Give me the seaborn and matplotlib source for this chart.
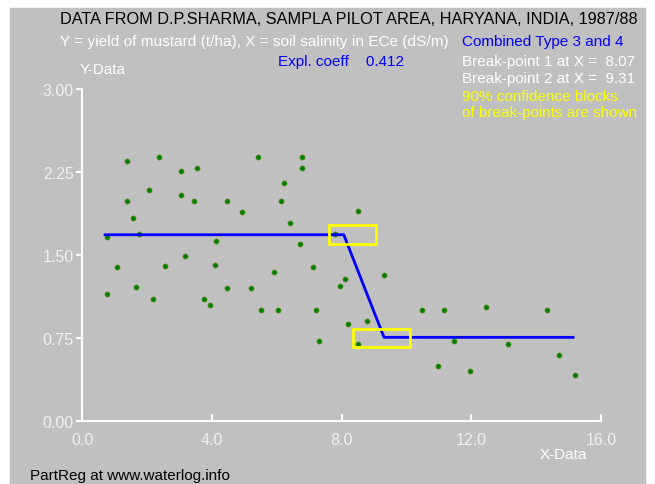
import numpy as np
import pandas as pd
import seaborn as sns
import matplotlib.pyplot as plt
from matplotlib.patches import Rectangle

# data
salinity = [1.39, 2.36, 3.06, 3.54, 2.06, 3.06, 1.39, 3.44, 1.58, 1.77,
            0.78, 3.17, 1.07, 2.56, 4.10, 1.67, 0.78, 2.18, 3.76, 3.95,
            5.43, 6.79, 6.79, 6.23, 4.46, 6.13, 4.93, 6.42, 4.14, 6.71,
            7.81, 5.92, 7.11, 4.46, 5.22, 7.95, 5.53, 6.04, 7.21, 7.30,
            8.51, 8.10, 9.30, 10.47, 11.17, 8.19, 8.79, 8.51, 11.46, 10.97,
            12.46, 14.33, 13.13, 14.71, 11.96, 15.21]
yield_t = [2.35, 2.39, 2.26, 2.29, 2.09, 2.04, 1.99, 1.99, 1.83, 1.69,
           1.66, 1.49, 1.39, 1.40, 1.41, 1.21, 1.15, 1.10, 1.10, 1.05,
           2.39, 2.39, 2.29, 2.15, 1.99, 1.99, 1.89, 1.79, 1.63, 1.60,
           1.69, 1.35, 1.39, 1.20, 1.20, 1.22, 1.00, 1.00, 1.00, 0.72,
           1.90, 1.28, 1.32, 1.00, 1.00, 0.88, 0.90, 0.70, 0.72, 0.50,
           1.03, 1.00, 0.70, 0.60, 0.45, 0.42]

# fitted partial regression (two break-points)
fit_x = [0.70, 8.07, 9.31, 15.15]
fit_y = [1.683, 1.683, 0.756, 0.756]

# 90% confidence blocks: (x0, x1, y0, y1)
block1 = (7.61, 9.06, 1.596, 1.770)
block2 = (8.34, 10.10, 0.668, 0.834)

x_ticks = [0, 4, 8, 12, 16]
y_ticks = [0, 0.75, 1.5, 2.25, 3.0]

sns.set_theme(style='ticks')
plt.rcParams['font.family'] = ['Liberation Sans', 'DejaVu Sans']

W, H = 655, 485
fig = plt.figure(figsize=(W / 100, H / 100), dpi=100)
fig.patch.set_facecolor('white')
# gray panel inside a thin white border
fig.patches.append(Rectangle((10 / W, 0), (645 - 10) / W, (H - 9) / H,
                             transform=fig.transFigure, color='#c0c0c0', zorder=-5))

ax = fig.add_axes([82 / W, (H - 422) / H, (601 - 82) / W, (422 - 90) / H])
ax.set_facecolor('#c0c0c0')
ax.set_zorder(2)

df = pd.DataFrame({'x': salinity, 'y': yield_t})
sns.scatterplot(data=df, x='x', y='y', ax=ax, color='#008000', s=14,
                edgecolor='#6f8f20', linewidth=0.4, zorder=3)
fit = pd.DataFrame({'x': fit_x, 'y': fit_y})
sns.lineplot(data=fit, x='x', y='y', ax=ax, color='#0000ff', lw=2, sort=False, zorder=4)

for x0, x1, y0, y1 in (block1, block2):
    ax.add_patch(Rectangle((x0, y0), x1 - x0, y1 - y0, fill=False,
                           edgecolor='#ffff00', lw=2, zorder=5))

ax.set_xlim(0, 16)
ax.set_ylim(0, 3)
ax.set_xticks(x_ticks)
ax.set_xticklabels([f'{v:.1f}' for v in x_ticks])
ax.set_yticks(y_ticks)
ax.set_yticklabels([f'{v:.2f}' for v in y_ticks])
ax.set_xlabel('')
ax.set_ylabel('')
for s in ('top', 'right'):
    ax.spines[s].set_visible(False)
for s in ('left', 'bottom'):
    ax.spines[s].set_color('white')
    ax.spines[s].set_linewidth(1.5)
ax.tick_params(axis='x', direction='in', colors='white', length=5, width=1.5,
               labelsize=11.5, labelcolor='#f0f0f0', pad=8)
ax.tick_params(axis='y', direction='out', colors='white', length=4, width=1.5,
               labelsize=11.5, labelcolor='#f0f0f0', pad=2)


def ftext(px, py, s, size=11, **kw):
    fig.text(px / W, 1 - py / H, s, fontsize=size, va='center', **kw)


ftext(60, 20, 'DATA FROM D.P.SHARMA, SAMPLA PILOT AREA, HARYANA, INDIA, 1987/88',
      size=11.7, color='black')
ftext(60, 42, 'Y = yield of mustard (t/ha), X = soil salinity in ECe (dS/m)',
      size=11.1, color='white')
ftext(462, 42, 'Combined Type 3 and 4', color='#0000ff')
ftext(278, 62, 'Expl. coeff    0.412', color='#0000ff')
ftext(462, 62, 'Break-point 1 at X =  8.07', color='white')
ftext(462, 79, 'Break-point 2 at X =  9.31', color='white')
ftext(462, 97, '90% confidence blocks', color='#ffff00')
ftext(462, 113, 'of break-points are shown', color='#ffff00')
ftext(80, 70, 'Y-Data', color='white')
ftext(540, 455, 'X-Data', color='white')
ftext(30, 476, 'PartReg at www.waterlog.info', color='black')

fig.savefig('out.png', dpi=100)
